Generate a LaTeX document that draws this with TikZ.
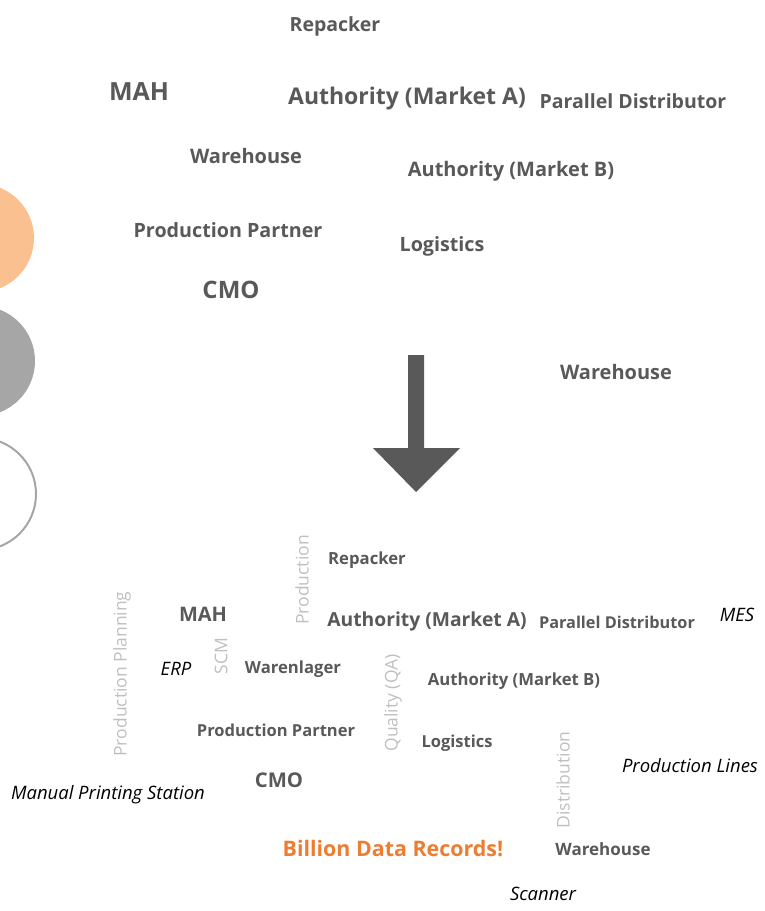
\documentclass[tikz,border=0pt]{standalone}
\usepackage{fontspec}
\setmainfont{Open Sans}
\definecolor{labelgray}{HTML}{595959}
\definecolor{areagray}{HTML}{BFBFBF}
\definecolor{lightorange}{HTML}{FAC090}
\definecolor{circlegray}{HTML}{A6A6A6}
\definecolor{recordorange}{HTML}{ED7D31}
\tikzset{
    actor/.style={font=\bfseries\fontsize{#1}{#1}\selectfont, text=labelgray, inner sep=0pt},
    area/.style={font=\fontsize{17.5}{17.5}\selectfont, text=areagray, rotate=90, inner sep=0pt},
    system/.style={font=\itshape\fontsize{18.5}{18.5}\selectfont, text=black, inner sep=0pt}
}
\begin{document}
\begin{tikzpicture}[x=1pt, y=-1pt]

    \clip (0,0) rectangle (765,911);
    \useasboundingbox (0,0) rectangle (765,911);

    % Circles on the left
    \fill[lightorange] (-20,238) circle (54);
    \fill[circlegray] (-20,361) circle (55);
    \draw[circlegray, line width=2pt] (-20,494) circle (56);

    % Actors before
    \node[actor=19.5] (repacker) at (335,26) {Repacker};
    \node[actor=25] (mah) at (139,92) {MAH};
    \node[actor=23] (authA) at (407,99) {Authority (Market A)};
    \node[actor=19.5] (pardist) at (633,101) {Parallel Distributor};
    \node[actor=20] (warehouse) at (246,156) {Warehouse};
    \node[actor=20] (authB) at (511,171) {Authority (Market B)};
    \node[actor=19.7] (partner) at (228,230) {Production Partner};
    \node[actor=19.7] (logistics) at (442,246) {Logistics};
    \node[actor=24] (cmo) at (231,290) {CMO};
    \node[actor=20] (warehouseR) at (616,372) {Warehouse};

    % Big arrow
    \fill[labelgray] (408,355) -- (424,355) -- (424,448) -- (460,448)
        -- (416,492) -- (373,448) -- (408,448) -- cycle;

    % Areas
    \node[area] (production) at (302,580) {Production};
    \node[area] (planning) at (122,674) {Production Planning};
    \node[area] (scm) at (221,656) {SCM};
    \node[area] (quality) at (393,703) {Quality (QA)};
    \node[area] (distribution) at (563,780) {Distribution};

    % Actors after
    \node[actor=16.7] (repacker2) at (367,560) {Repacker};
    \node[actor=20] (mah2) at (203,614) {MAH};
    \node[actor=19.3] (authA2) at (427,621) {Authority (Market A)};
    \node[actor=16.3] (pardist2) at (617,622) {Parallel Distributor};
    \node[actor=16.7] (warenlager) at (293,669) {Warenlager};
    \node[actor=16.7] (authB2) at (514,681) {Authority (Market B)};
    \node[actor=16.5] (partner2) at (276,730) {Production Partner};
    \node[actor=16.5] (logistics2) at (457,743) {Logistics};
    \node[actor=20.3] (cmo2) at (279,780) {CMO};
    \node[actor=17] (warehouse2) at (603,849) {Warehouse};

    % Systems
    \node[system] (mes) at (737,615) {MES};
    \node[system] (erp) at (176,669) {ERP};
    \node[system] (lines) at (690,766) {Production Lines};
    \node[system] (printing) at (108,795) {Manual Printing Station};
    \node[system] (scanner) at (543,894) {Scanner};

    % Result
    \node[actor=21.4, text=recordorange] (records) at (393,849) {Billion Data Records!};

\end{tikzpicture}
\end{document}
